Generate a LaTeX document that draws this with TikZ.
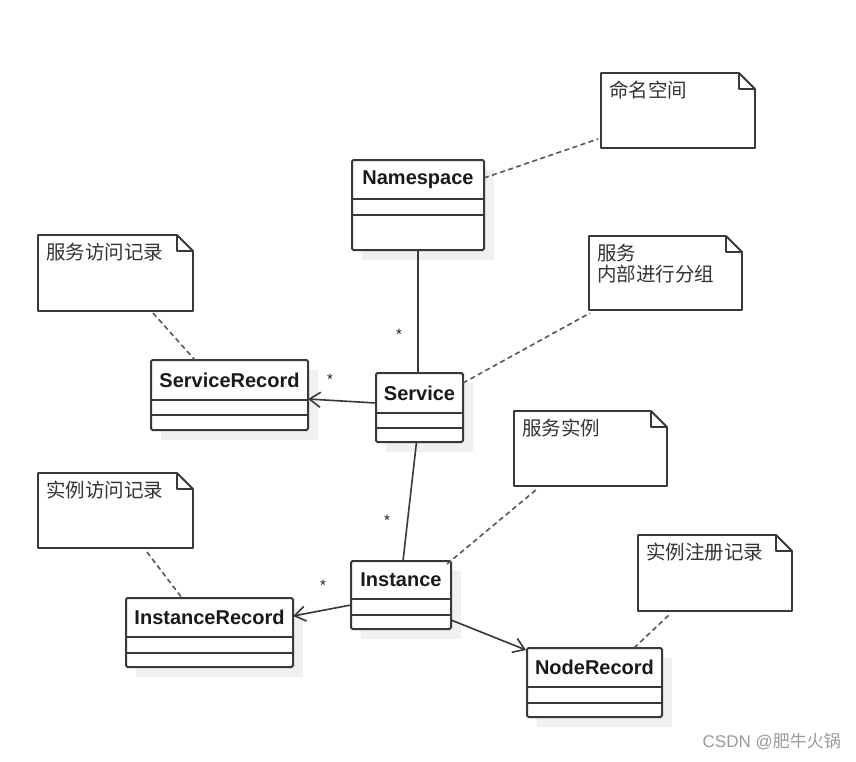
\documentclass[tikz,border=0pt]{standalone}
\usepackage{fontspec}
\setmainfont{Liberation Sans}
\newfontfamily\cjk{Noto Sans CJK SC}
\usetikzlibrary{arrows.meta}
\definecolor{ln}{HTML}{383838}
\definecolor{txt}{HTML}{1A1A1A}
\definecolor{ntxt}{HTML}{333333}
\definecolor{shd}{HTML}{F0F0F0}
\definecolor{wm}{HTML}{9A9A9A}
\tikzset{
  cls/.style={draw=ln, line width=2pt, rounded corners=1.5pt, fill=white, rectangle, inner sep=0pt, outer sep=0pt},
  clstext/.style={text=txt, font=\bfseries\fontsize{20}{22}\selectfont, inner sep=0pt},
  divider/.style={draw=ln, line width=1.8pt},
  notebox/.style={rectangle, inner sep=0pt, outer sep=0pt},
  noteline/.style={draw=ln, line width=1.9pt, fill=white, line join=round},
  notetext/.style={text=ntxt, font=\cjk\fontsize{19.5}{21}\selectfont, inner sep=0pt, align=left},
  assoc/.style={draw=ln, line width=1.6pt},
  navarrow/.style={draw=ln, line width=1.6pt, -{Straight Barb[length=11pt,width=15pt,line width=1.6pt]}},
  anchorline/.style={draw=ln!85, line width=1.6pt, dash pattern=on 5pt off 3.5pt},
  mult/.style={text=txt, font=\fontsize{15}{15}\selectfont, inner sep=0pt}
}
\newcommand\umlcls[8]{%
  \fill[shd] (#2+10,#3+10) rectangle (#4+10,#5+10);
  \node[cls, minimum width={#4-#2}, minimum height={#5-#3}] (#1) at ({(#2+#4)/2},{(#3+#5)/2}) {};
  \node[clstext] (#1-name) at ({(#2+#4)/2},{(#3+#6)/2}) {#8};
  \draw[divider] (#2,#6) -- (#4,#6);
  \draw[divider] (#2,#7) -- (#4,#7);
}
\newcommand\umlnote[6]{%
  \node[notebox, minimum width={#4-#2}, minimum height={#5-#3}] (#1) at ({(#2+#4)/2},{(#3+#5)/2}) {};
  \draw[noteline] (#1.north west) -- ([xshift=-16pt]#1.north east) -- ([yshift=-16pt]#1.north east) -- (#1.south east) -- (#1.south west) -- cycle;
  \draw[noteline, fill=none] ([xshift=-16pt]#1.north east) -- ([xshift=-16pt,yshift=-16pt]#1.north east) -- ([yshift=-16pt]#1.north east);
  \node[notetext, anchor=north west] (#1-text) at ([xshift=8pt,yshift=-8pt]#1.north west) {#6};
}
\begin{document}
\begin{tikzpicture}[x=1pt,y=-1pt]
\useasboundingbox (0,0) rectangle (856,761);
\fill[white] (0,0) rectangle (856,761);

% classes
\umlcls{ns}{352}{160}{484}{250}{199}{215}{Namespace}
\umlcls{svc}{376}{373}{463}{442}{413}{428}{Service}
\umlcls{sr}{151}{360}{308}{430}{400}{415}{ServiceRecord}
\umlcls{inst}{351}{561}{451}{629}{599}{615}{Instance}
\umlcls{ir}{126}{598}{293}{667}{637}{653}{InstanceRecord}
\umlcls{nr}{527}{648}{662}{717}{687}{703}{NodeRecord}

% notes
\umlnote{n1}{601}{73}{755}{148}{命名空间}
\umlnote{n2}{38}{235}{193}{311}{服务访问记录}
\umlnote{n3}{589}{236}{742}{310}{服务\\内部进行分组}
\umlnote{n4}{514}{411}{667}{486}{服务实例}
\umlnote{n5}{38}{473}{193}{548}{实例访问记录}
\umlnote{n6}{638}{535}{792}{611}{实例注册记录}

% associations
\draw[assoc] (ns.south) -- (ns.south |- svc.north);
\draw[assoc] ([xshift=-3pt]svc.south) -- ([xshift=2pt]inst.north);
\draw[navarrow] ([yshift=-30pt]svc.north west) -- ([yshift=-39pt]sr.north east);
\draw[navarrow] ([yshift=-44pt]inst.north west) -- ([yshift=-18pt]ir.north east);
\draw[navarrow] ([yshift=-59pt]inst.north east) -- ([xshift=-1pt,yshift=-2pt]nr.north west);

% note anchors
\draw[anchorline] ([yshift=-18pt]ns.north east) -- ([xshift=-3pt,yshift=9pt]n1.south west);
\draw[anchorline] ([xshift=115pt,yshift=-2pt]n2.south west) -- ([xshift=44pt]sr.north west);
\draw[anchorline] ([yshift=-10pt]svc.north east) -- ([xshift=1pt,yshift=-3pt]n3.south west);
\draw[anchorline] ([xshift=-4pt,yshift=-3pt]inst.north east) -- ([xshift=23pt,yshift=-3pt]n4.south west);
\draw[anchorline] ([xshift=109pt,yshift=-4pt]n5.south west) -- ([xshift=56pt]ir.north west);
\draw[anchorline] ([xshift=107pt]nr.north west) -- ([xshift=32pt,yshift=-3pt]n6.south west);

% multiplicities
\node[mult] (m1) at (399,334) {*};
\node[mult] (m2) at (330,379) {*};
\node[mult] (m3) at (387,520) {*};
\node[mult] (m4) at (323,585) {*};

% watermark
\node[text=wm, font=\fontsize{17}{18}\selectfont, anchor=east, inner sep=0pt] (wm) at (841,742) {CSDN @{\cjk 肥牛火锅}};
\end{tikzpicture}
\end{document}
